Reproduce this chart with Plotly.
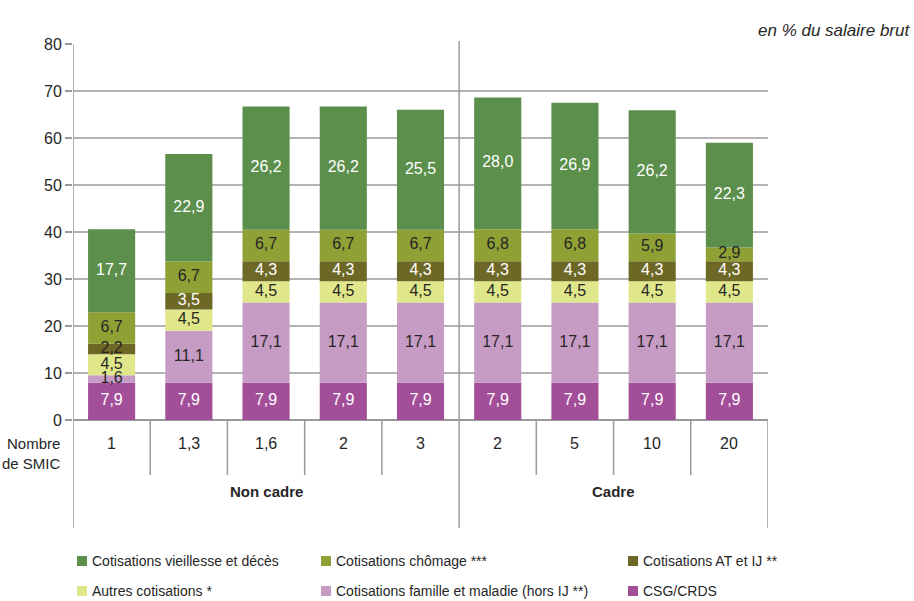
import plotly.graph_objects as go

# Catégories : nombre de SMIC, par statut
smic_labels = ["1", "1,3", "1,6", "2", "3", "2", "5", "10", "20"]
groups = ["Non cadre", "Cadre"]
group_sizes = [5, 4]

# Taux de cotisations (en % du salaire brut), de bas en haut de la pile
csg_crds = [7.9, 7.9, 7.9, 7.9, 7.9, 7.9, 7.9, 7.9, 7.9]
famille_maladie = [1.6, 11.1, 17.1, 17.1, 17.1, 17.1, 17.1, 17.1, 17.1]
autres = [4.5, 4.5, 4.5, 4.5, 4.5, 4.5, 4.5, 4.5, 4.5]
at_ij = [2.2, 3.5, 4.3, 4.3, 4.3, 4.3, 4.3, 4.3, 4.3]
chomage = [6.7, 6.7, 6.7, 6.7, 6.7, 6.8, 6.8, 5.9, 2.9]
vieillesse = [17.7, 22.9, 26.2, 26.2, 25.5, 28.0, 26.9, 26.2, 22.3]

series = [
    ("CSG/CRDS", csg_crds, "#A24E98", "white"),
    ("Cotisations famille et maladie (hors IJ **)", famille_maladie, "#C69BC4", "#262626"),
    ("Autres cotisations *", autres, "#E0E68A", "#262626"),
    ("Cotisations AT et IJ **", at_ij, "#6E6826", "white"),
    ("Cotisations chômage ***", chomage, "#8FA035", "#262626"),
    ("Cotisations vieillesse et décès", vieillesse, "#5B8F4B", "white"),
]

FONT = "Liberation Sans Narrow, Arial Narrow, Liberation Sans, Arial, sans-serif"
GRID = "#B3B3B3"
AXIS = "#9A9A9A"

# Zone de tracé en pixels
W, H = 914, 601
L, R, T, B = 73, 768, 44, 420

def px_x(p):
    return (p - L) / (R - L)

def px_y(p):
    return (B - p) / (B - T)

xs = list(range(len(smic_labels)))
fig = go.Figure()

base = [0.0] * len(xs)
for name, vals, color, tcol in series:
    fig.add_bar(x=xs, y=vals, base=base, width=0.61, name=name,
                marker=dict(color=color, line=dict(width=0)),
                showlegend=False, hoverinfo="skip")
    mids = [b + v / 2 for b, v in zip(base, vals)]
    labels = [f"{v:.1f}".replace(".", ",") for v in vals]
    colors = [tcol] * len(xs)
    if name == "Cotisations AT et IJ **":
        colors[0] = "#262626"
    fig.add_scatter(x=xs, y=mids, mode="text", text=labels,
                    textposition="middle center",
                    textfont=dict(family=FONT, size=16, color=colors),
                    showlegend=False, hoverinfo="skip")
    base = [b + v for b, v in zip(base, vals)]

shapes = []
line_style = dict(color=AXIS, width=1.5)
# séparateurs entre catégories
for i in range(len(xs) - 1):
    xb = i + 0.5
    if i == group_sizes[0] - 1:
        # séparation entre groupes : du haut du graphique jusqu'en bas
        shapes.append(dict(type="line", xref="x", yref="paper", x0=xb, x1=xb,
                           y0=px_y(41), y1=px_y(528), line=line_style))
    else:
        shapes.append(dict(type="line", xref="x", yref="paper", x0=xb, x1=xb,
                           y0=0, y1=px_y(475), line=line_style))
# bords gauche et droit
shapes.append(dict(type="line", xref="x", yref="paper", x0=-0.5, x1=-0.5,
                   y0=1, y1=px_y(528), line=line_style))
shapes.append(dict(type="line", xref="x", yref="paper", x0=len(xs) - 0.5, x1=len(xs) - 0.5,
                   y0=0, y1=px_y(528), line=line_style))

annotations = []
for i, lab in enumerate(smic_labels):
    annotations.append(dict(x=i, y=px_y(443), xref="x", yref="paper", text=lab,
                            showarrow=False, xanchor="center", yanchor="middle",
                            font=dict(family=FONT, size=16, color="#262626")))
start = 0
for g, n in zip(groups, group_sizes):
    annotations.append(dict(x=start + (n - 1) / 2, y=px_y(502), xref="x", yref="paper",
                            text=f"<b>{g}</b>", showarrow=False,
                            font=dict(family=FONT, size=15, color="#262626")))
    start += n
annotations.append(dict(x=px_x(63), y=px_y(453), xref="paper", yref="paper",
                        text="Nombre<br>de SMIC", showarrow=False, xanchor="right",
                        yanchor="middle", align="right",
                        font=dict(family=FONT, size=15, color="#262626")))
annotations.append(dict(x=px_x(912), y=px_y(30), xref="paper", yref="paper",
                        text="<i>en % du salaire brut</i>", showarrow=False,
                        xanchor="right", yanchor="middle",
                        font=dict(family=FONT, size=17, color="#262626")))

# légende
legend_items = [
    ("Cotisations vieillesse et décès", "#5B8F4B", 77, 561),
    ("Cotisations chômage ***", "#8FA035", 321, 561),
    ("Cotisations AT et IJ **", "#6E6826", 628, 561),
    ("Autres cotisations *", "#E0E68A", 77, 591),
    ("Cotisations famille et maladie (hors IJ **)", "#C69BC4", 321, 591),
    ("CSG/CRDS", "#A24E98", 628, 591),
]
for text, color, x0, yc in legend_items:
    shapes.append(dict(type="rect", xref="paper", yref="paper",
                       x0=px_x(x0), x1=px_x(x0 + 10),
                       y0=px_y(yc + 5), y1=px_y(yc - 5),
                       fillcolor=color, line=dict(width=0)))
    annotations.append(dict(x=px_x(x0 + 13), y=px_y(yc), xref="paper", yref="paper",
                            text=text, showarrow=False, xanchor="left", yanchor="middle",
                            font=dict(family=FONT, size=14, color="#262626")))

fig.update_layout(
    width=W, height=H,
    margin=dict(l=L, r=W - R, t=T, b=H - B),
    paper_bgcolor="white", plot_bgcolor="white",
    barmode="overlay",
    shapes=shapes, annotations=annotations,
    showlegend=False,
)
fig.update_xaxes(range=[-0.5, len(xs) - 0.5], showticklabels=False, showgrid=False,
                 zeroline=False, showline=False, ticks="")
fig.update_yaxes(range=[0, 80], dtick=10, showgrid=True, gridcolor=GRID, gridwidth=1.5,
                 zeroline=True, zerolinecolor=AXIS, zerolinewidth=1.5,
                 ticks="outside", ticklen=7, tickcolor=AXIS, tickwidth=1.5,
                 showline=False,
                 tickfont=dict(family=FONT, size=16, color="#262626"))

fig.write_html("out.html")
